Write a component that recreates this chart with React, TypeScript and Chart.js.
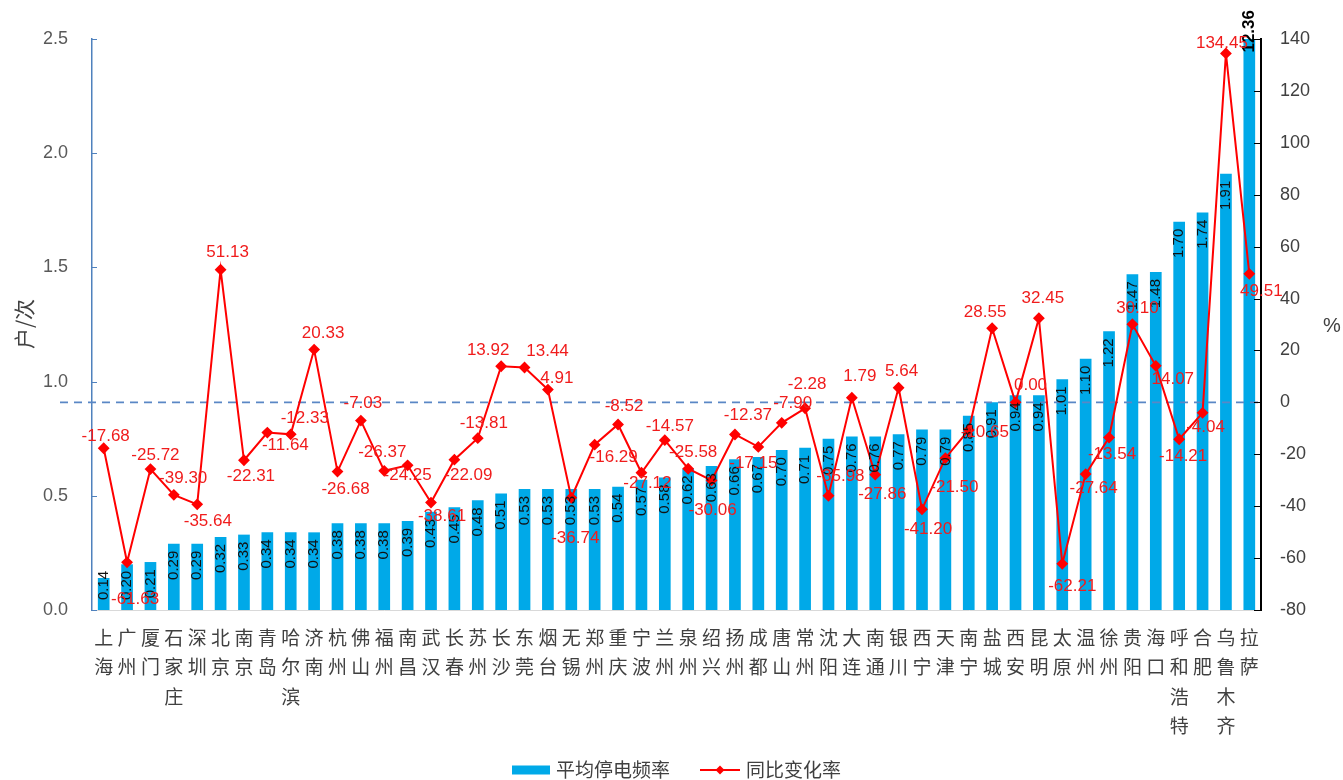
import React, { useEffect, useRef } from 'react';
import { Chart, registerables } from 'chart.js';
Chart.register(...registerables);

const CITIES = ['上海','广州','厦门','石家庄','深圳','北京','南京','青岛','哈尔滨','济南','杭州','佛山','福州','南昌','武汉','长春','苏州','长沙','东莞','烟台','无锡','郑州','重庆','宁波','兰州','泉州','绍兴','扬州','成都','唐山','常州','沈阳','大连','南通','银川','西宁','天津','南宁','盐城','西安','昆明','太原','温州','徐州','贵阳','海口','呼和浩特','合肥','乌鲁木齐','拉萨'];
const FREQ = [0.14,0.20,0.21,0.29,0.29,0.32,0.33,0.34,0.34,0.34,0.38,0.38,0.38,0.39,0.43,0.45,0.48,0.51,0.53,0.53,0.53,0.53,0.54,0.57,0.58,0.62,0.63,0.66,0.67,0.70,0.71,0.75,0.76,0.76,0.77,0.79,0.79,0.85,0.91,0.94,0.94,1.01,1.10,1.22,1.47,1.48,1.70,1.74,1.91,12.36];
const YOY = [-17.68,-61.63,-25.72,-35.64,-39.30,51.13,-22.31,-11.64,-12.33,20.33,-26.68,-7.03,-26.37,-24.25,-38.61,-22.09,-13.81,13.92,13.44,4.91,-36.74,-16.29,-8.52,-27.12,-14.57,-25.58,-30.06,-12.37,-17.15,-7.90,-2.28,-35.98,1.79,-27.86,5.64,-41.20,-21.50,-10.65,28.55,0.00,32.45,-62.21,-27.64,-13.54,30.10,14.07,-14.21,-4.04,134.45,49.51];
// label offsets (px) of the YoY data labels relative to their markers
const YOY_LABEL_DX = [2,8,5,34,-14,7,7,18,14,9,8,2,-2,0,11,14,6,-13,23,9,4,19,6,6,5,5,1,13,-5,11,2,12,8,7,3,6,9,16,-7,15,4,10,8,3,5,17,4,3,-4,12];
const YOY_LABEL_DY = [-12,37,-14,26,-26,-17,16,13,-16,-16,18,-17,-18,10,14,16,-15,-16,-16,-11,41,13,-18,11,-14,-16,30,-19,16,-20,-24,-19,-21,20,-16,20,29,2,-16,-17,-20,22,14,17,-16,13,17,14,-10,17];

const LEFT_MIN = 0, LEFT_MAX = 2.5, LEFT_STEP = 0.5;
const RIGHT_MIN = -80, RIGHT_MAX = 140, RIGHT_STEP = 20;
const REF_LINE = 0; // dashed reference line on the % axis

const BAR_COLOR = '#00A9E8';
const LINE_COLOR = '#FF0000';
const LABEL_RED = '#F01C1C';
const NUM_FONT = '"Liberation Sans", Arial, sans-serif';
const CJK_FONT = '"Noto Sans CJK SC", "Noto Sans", sans-serif';

const labelPlugin = {
  id: 'customDecor',
  afterDatasetDraw(chart: any, args: any) {
    if (args.index !== 0) return;
    const ctx = chart.ctx;
    const y1 = chart.scales.y1;
    const yy = y1.getPixelForValue(REF_LINE);
    ctx.save();
    ctx.strokeStyle = '#5A87C5';
    ctx.lineWidth = 1.6;
    ctx.setLineDash([8, 6]);
    ctx.beginPath();
    ctx.moveTo(60, yy);
    ctx.lineTo(chart.chartArea.right, yy);
    ctx.stroke();
    ctx.restore();
  },
  afterDatasetsDraw(chart: any) {
    const ctx = chart.ctx;
    const area = chart.chartArea;
    const barMeta = chart.getDatasetMeta(0);
    const lineMeta = chart.getDatasetMeta(1);
    ctx.save();
    barMeta.data.forEach((el: any, i: number) => {
      const v = FREQ[i];
      const text = v.toFixed(2);
      if (v > LEFT_MAX) {
        ctx.font = 'bold 17px ' + NUM_FONT;
        const w = ctx.measureText(text).width;
        ctx.save();
        ctx.translate(el.x, 10 + w);
        ctx.rotate(-Math.PI / 2);
        ctx.fillStyle = '#000';
        ctx.textAlign = 'left';
        ctx.textBaseline = 'middle';
        ctx.fillText(text, 0, 0);
        ctx.restore();
        return;
      }
      ctx.font = '15px ' + NUM_FONT;
      const w = ctx.measureText(text).width;
      let start = el.y + 7;
      if (start + w > area.bottom - 10) start = area.bottom - 10 - w;
      ctx.save();
      ctx.translate(el.x, start);
      ctx.rotate(-Math.PI / 2);
      ctx.fillStyle = '#111';
      ctx.textAlign = 'right';
      ctx.textBaseline = 'middle';
      ctx.fillText(text, 0, 0);
      ctx.restore();
    });
    ctx.font = '17px ' + NUM_FONT;
    ctx.fillStyle = LABEL_RED;
    ctx.textAlign = 'center';
    ctx.textBaseline = 'middle';
    lineMeta.data.forEach((el: any, i: number) => {
      ctx.fillText(YOY[i].toFixed(2), el.x + YOY_LABEL_DX[i], el.y + YOY_LABEL_DY[i]);
    });
    ctx.restore();
  },
  afterDraw(chart: any) {
    const ctx = chart.ctx;
    const y = chart.scales.y;
    const y1 = chart.scales.y1;
    const area = chart.chartArea;
    ctx.save();
    ctx.strokeStyle = '#4F81BD';
    ctx.lineWidth = 1;
    y.ticks.forEach((t: any) => {
      const p = Math.round(y.getPixelForValue(t.value)) + 0.5;
      ctx.beginPath();
      ctx.moveTo(area.left, p);
      ctx.lineTo(area.left + 5, p);
      ctx.stroke();
    });
    ctx.strokeStyle = '#000';
    y1.ticks.forEach((t: any) => {
      const p = Math.round(y1.getPixelForValue(t.value)) + 0.5;
      ctx.beginPath();
      ctx.moveTo(area.right - 7, p);
      ctx.lineTo(area.right, p);
      ctx.stroke();
    });
    ctx.fillStyle = '#404040';
    ctx.font = '21px ' + CJK_FONT;
    ctx.textAlign = 'center';
    ctx.textBaseline = 'middle';
    ctx.save();
    ctx.translate(24, 324);
    ctx.rotate(-Math.PI / 2);
    ctx.fillText('户/次', 0, 0);
    ctx.restore();
    ctx.font = '20px ' + NUM_FONT;
    ctx.fillText('%', 1332, 326);
    const ly = 770;
    ctx.fillStyle = BAR_COLOR;
    ctx.fillRect(512, ly - 4.5, 38, 9);
    ctx.fillStyle = '#404040';
    ctx.font = '19px ' + CJK_FONT;
    ctx.textAlign = 'left';
    ctx.fillText('平均停电频率', 556, ly);
    ctx.strokeStyle = LINE_COLOR;
    ctx.lineWidth = 2;
    ctx.beginPath();
    ctx.moveTo(700, ly);
    ctx.lineTo(740, ly);
    ctx.stroke();
    ctx.fillStyle = LINE_COLOR;
    ctx.beginPath();
    ctx.moveTo(720, ly - 4.5);
    ctx.lineTo(724.5, ly);
    ctx.lineTo(720, ly + 4.5);
    ctx.lineTo(715.5, ly);
    ctx.closePath();
    ctx.fill();
    ctx.fillStyle = '#404040';
    ctx.fillText('同比变化率', 746, ly);
    ctx.restore();
  },
};

export default function App() {
  const ref = useRef<HTMLCanvasElement | null>(null);
  useEffect(() => {
    document.body.style.margin = '0';
    const canvas = ref.current;
    if (!canvas) return;
    const chart = new Chart(canvas, {
      type: 'bar',
      data: {
        labels: CITIES,
        datasets: [
          {
            type: 'bar',
            label: '平均停电频率',
            data: FREQ,
            backgroundColor: BAR_COLOR,
            yAxisID: 'y',
            order: 2,
            barPercentage: 0.5,
            categoryPercentage: 1,
          } as any,
          {
            type: 'line',
            label: '同比变化率',
            data: YOY,
            borderColor: LINE_COLOR,
            backgroundColor: LINE_COLOR,
            borderWidth: 2,
            pointStyle: 'rectRot',
            pointRadius: 4.5,
            pointBackgroundColor: LINE_COLOR,
            pointBorderColor: LINE_COLOR,
            tension: 0,
            yAxisID: 'y1',
            order: 1,
            clip: false,
          } as any,
        ],
      },
      options: {
        animation: false,
        responsive: false,
        devicePixelRatio: 1,
        layout: { padding: { top: 39, left: 0, right: 0, bottom: 0 } },
        plugins: { legend: { display: false }, tooltip: { enabled: false } },
        scales: {
          x: {
            offset: true,
            grid: { display: false, drawTicks: false },
            border: { display: true, color: '#D9D9D9', width: 1 },
            ticks: {
              autoSkip: false,
              maxRotation: 0,
              minRotation: 0,
              padding: 13,
              color: '#404040',
              font: { family: CJK_FONT, size: 19, lineHeight: 1.55 },
              callback: (_v: any, i: number) => CITIES[i].split(''),
            },
            afterFit: (s: any) => { s.height = 170; },
          },
          y: {
            position: 'left',
            min: LEFT_MIN,
            max: LEFT_MAX,
            grid: { display: false, drawTicks: false },
            border: { display: true, color: '#4F81BD', width: 1.5 },
            ticks: {
              stepSize: LEFT_STEP,
              padding: 24,
              color: '#595959',
              font: { family: NUM_FONT, size: 18 },
              callback: (v: any) => Number(v).toFixed(1),
            },
            afterFit: (s: any) => { s.width = 92; },
          },
          y1: {
            position: 'right',
            min: RIGHT_MIN,
            max: RIGHT_MAX,
            grid: { display: false, drawTicks: false },
            border: { display: true, color: '#000', width: 2 },
            ticks: {
              stepSize: RIGHT_STEP,
              padding: 19,
              color: '#404040',
              font: { family: NUM_FONT, size: 18 },
            },
            afterFit: (s: any) => { s.width = 82; },
          },
        },
      },
      plugins: [labelPlugin],
    } as any);
    return () => chart.destroy();
  }, []);
  return (
    <div style={{ width: 1343, height: 780 }}>
      <canvas ref={ref} width={1343} height={780} style={{ width: 1343, height: 780, display: 'block' }} />
    </div>
  );
}
